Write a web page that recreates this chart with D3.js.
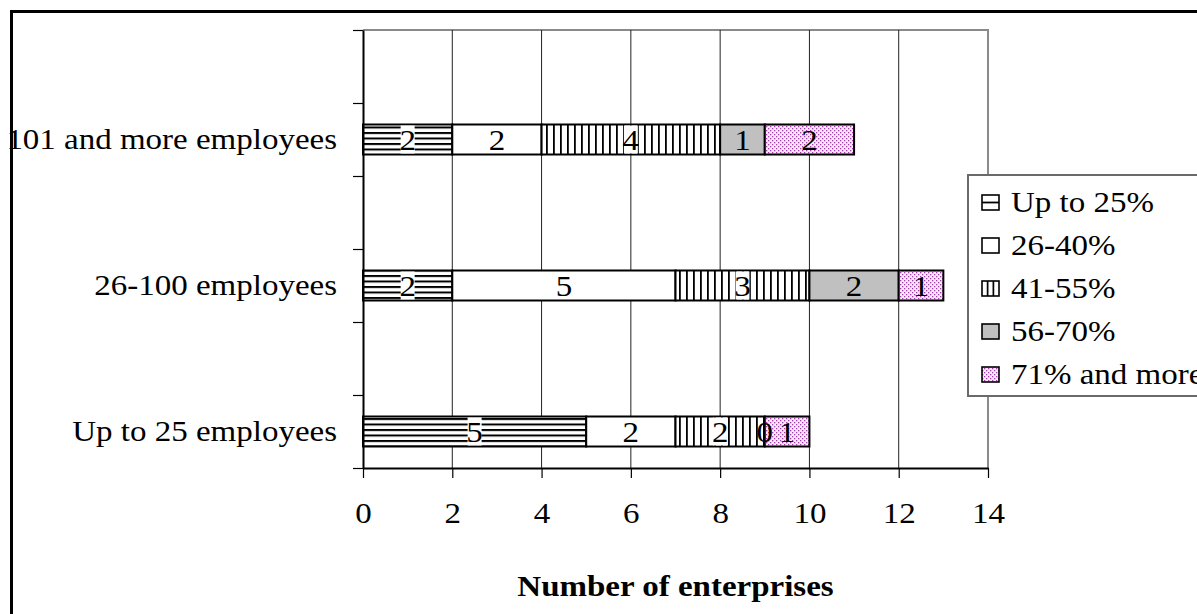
<!DOCTYPE html>
<html>
<head>
<meta charset="utf-8">
<script src="https://cdn.jsdelivr.net/npm/d3@7"></script>
<style>
  html, body { margin: 0; padding: 0; background: #fff; }
  svg { display: block; }
  text { font-family: "Liberation Serif", "Times New Roman", serif; fill: #000; }
</style>
</head>
<body>
<svg id="chart" width="1197" height="614"></svg>
<script>
// Enterprise size groups, top to bottom (blank rows separate the bars)
const categories = ["", "101 and more employees", "", "26-100 employees", "", "Up to 25 employees"];

// Share-of-staff groups (stacked left to right)
const seriesNames = ["Up to 25%", "26-40%", "41-55%", "56-70%", "71% and more"];
const upTo25      = [null, 2, null, 2, null, 5];
const from26to40  = [null, 2, null, 5, null, 2];
const from41to55  = [null, 4, null, 3, null, 2];
const from56to70  = [null, 1, null, 2, null, 0];
const from71      = [null, 2, null, 1, null, 1];
const seriesValues = [upTo25, from26to40, from41to55, from56to70, from71];

const xTicks = [0, 2, 4, 6, 8, 10, 12, 14];
const xTitle = "Number of enterprises";

const fills = ["url(#hLines)", "#ffffff", "url(#vLines)", "#c0c0c0", "url(#dots)"];
const legendFills = ["url(#hLinesKey)", "#ffffff", "url(#vLinesKey)", "#c0c0c0", "url(#dots)"];
const labelBackdrop = [true, false, true, false, false];

const svg = d3.select("#chart");
const FONT = 30;
const STRETCH = 1.1;   // text is drawn slightly wide

// widen a text element horizontally while keeping its anchor point in place
function widen(sel) {
  sel.each(function () {
    const t = d3.select(this);
    const x0 = +(t.attr("x") || 0);
    t.attr("x", x0 / STRETCH).attr("transform", `scale(${STRETCH},1)`);
  });
}

// ---- patterns ----
const defs = svg.append("defs");
const hp = defs.append("pattern").attr("id", "hLines").attr("patternUnits", "userSpaceOnUse")
  .attr("width", 8).attr("height", 5.5);
hp.append("rect").attr("width", 8).attr("height", 5.5).attr("fill", "#fff");
hp.append("rect").attr("y", 0).attr("width", 8).attr("height", 2).attr("fill", "#000");

const vp = defs.append("pattern").attr("id", "vLines").attr("patternUnits", "userSpaceOnUse")
  .attr("width", 7).attr("height", 8);
vp.append("rect").attr("width", 7).attr("height", 8).attr("fill", "#fff");
vp.append("rect").attr("x", 0).attr("width", 1.8).attr("height", 8).attr("fill", "#000");

const dp = defs.append("pattern").attr("id", "dots").attr("patternUnits", "userSpaceOnUse")
  .attr("width", 4).attr("height", 4);
dp.append("rect").attr("width", 4).attr("height", 4).attr("fill", "#f6eaf6");
dp.append("rect").attr("x", 0).attr("y", 0).attr("width", 1.3).attr("height", 1.3).attr("fill", "#a040a8");
dp.append("rect").attr("x", 2).attr("y", 2).attr("width", 1.3).attr("height", 1.3).attr("fill", "#a040a8");

const hk = defs.append("pattern").attr("id", "hLinesKey").attr("patternContentUnits", "objectBoundingBox")
  .attr("width", 1).attr("height", 1);
hk.append("rect").attr("width", 1).attr("height", 1).attr("fill", "#fff");
hk.append("rect").attr("y", 0.44).attr("width", 1).attr("height", 0.12).attr("fill", "#000");

const vk = defs.append("pattern").attr("id", "vLinesKey").attr("patternContentUnits", "objectBoundingBox")
  .attr("width", 1).attr("height", 1);
vk.append("rect").attr("width", 1).attr("height", 1).attr("fill", "#fff");
vk.append("rect").attr("x", 0.28).attr("width", 0.1).attr("height", 1).attr("fill", "#000");
vk.append("rect").attr("x", 0.62).attr("width", 0.1).attr("height", 1).attr("fill", "#000");

// ---- frame ----
svg.append("rect").attr("x", 11.5).attr("y", 11.5).attr("width", 1300).attr("height", 700)
  .attr("fill", "#fff").attr("stroke", "#000").attr("stroke-width", 3);

// ---- plot geometry ----
const plot = { left: 363, right: 988, top: 30, bottom: 468 };

const x = d3.scaleLinear().domain([0, 14]).range([plot.left, plot.right]);
const y = d3.scaleBand().domain(d3.range(categories.length)).range([plot.top, plot.bottom]).padding(0);
const yEdge = d3.scaleLinear().domain([0, categories.length]).range([plot.top, plot.bottom]);
const barH = 30;

// plot border (gray top/right)
svg.append("path")
  .attr("d", `M${plot.left},${plot.top}H${plot.right}V${plot.bottom}`)
  .attr("fill", "none").attr("stroke", "#8a8a8a").attr("stroke-width", 2);

// vertical gridlines
svg.append("g").selectAll("line").data(xTicks.filter(v => v > 0 && v < 14)).join("line")
  .attr("x1", d => x(d)).attr("x2", d => x(d))
  .attr("y1", plot.top).attr("y2", plot.bottom)
  .attr("stroke", "#222").attr("stroke-width", 1);

// ---- stacked bars ----
const stacks = categories.map((c, i) => {
  let acc = 0;
  return seriesValues.map((vals, s) => {
    const v = vals[i];
    if (v === null) return null;
    const seg = { s, i, v, x0: acc, x1: acc + v };
    acc += v;
    return seg;
  }).filter(d => d);
});
const segments = stacks.flat();

const barG = svg.append("g");
barG.selectAll("rect").data(segments.filter(d => d.v > 0)).join("rect")
  .attr("x", d => x(d.x0)).attr("width", d => x(d.x1) - x(d.x0))
  .attr("y", d => y(d.i) + (y.bandwidth() - barH) / 2).attr("height", barH)
  .attr("fill", d => fills[d.s])
  .attr("stroke", "#000").attr("stroke-width", 2);

// value labels
const labG = svg.append("g");
segments.forEach(d => {
  const cx = x((d.x0 + d.x1) / 2);
  const cy = y(d.i) + y.bandwidth() / 2;
  if (labelBackdrop[d.s] && d.v > 0) {
    labG.append("rect").attr("x", cx - 7).attr("y", cy - barH / 2 + 1)
      .attr("width", 14).attr("height", barH - 2).attr("fill", "#fff");
  }
  labG.append("text").attr("x", cx).attr("y", cy).attr("dy", "0.34em")
    .attr("text-anchor", "middle").style("font-size", FONT + "px").text(d.v);
});
widen(labG.selectAll("text"));

// ---- axes ----
const xAxis = svg.append("g").attr("transform", `translate(0,${plot.bottom})`)
  .call(d3.axisBottom(x).tickValues(xTicks).tickSize(10).tickPadding(24).tickSizeOuter(0));
xAxis.select(".domain").attr("stroke", "#000").attr("stroke-width", 2);
xAxis.selectAll(".tick line").attr("stroke", "#000").attr("stroke-width", 1.2);
xAxis.selectAll("text").style("font-size", FONT + "px").style("font-family", "Liberation Serif, serif");
widen(xAxis.selectAll("text"));

const yTicks = svg.append("g").attr("transform", `translate(${plot.left},0)`)
  .call(d3.axisLeft(yEdge).ticks(categories.length).tickSize(10).tickFormat("").tickSizeOuter(0));
yTicks.select(".domain").attr("stroke", "#000").attr("stroke-width", 2);
yTicks.selectAll(".tick line").attr("stroke", "#000").attr("stroke-width", 1.2);

const yLabels = svg.append("g").attr("transform", `translate(${plot.left},0)`)
  .call(d3.axisLeft(y).tickSize(0).tickPadding(26).tickFormat(i => categories[i]));
yLabels.select(".domain").remove();
yLabels.selectAll("text").style("font-size", FONT + "px").style("font-family", "Liberation Serif, serif");
widen(yLabels.selectAll("text"));

// axis title
svg.append("text").attr("x", (plot.left + plot.right) / 2).attr("y", 596)
  .attr("text-anchor", "middle").style("font-size", FONT + "px").style("font-weight", "bold")
  .text(xTitle)
  .call(widen);

// ---- legend ----
const lg = svg.append("g");
lg.append("rect").attr("x", 968).attr("y", 175).attr("width", 300).attr("height", 221)
  .attr("fill", "#fff").attr("stroke", "#6a6a6a").attr("stroke-width", 2);
seriesNames.forEach((name, k) => {
  const cy = 202 + k * 43;
  lg.append("rect").attr("x", 982).attr("y", cy - 7).attr("width", 17).attr("height", 15)
    .attr("fill", legendFills[k]).attr("stroke", "#000").attr("stroke-width", 1.6);
  lg.append("text").attr("x", 1011).attr("y", cy).attr("dy", "0.35em")
    .style("font-size", FONT + "px").text(name)
    .call(widen);
});
</script>
</body>
</html>
